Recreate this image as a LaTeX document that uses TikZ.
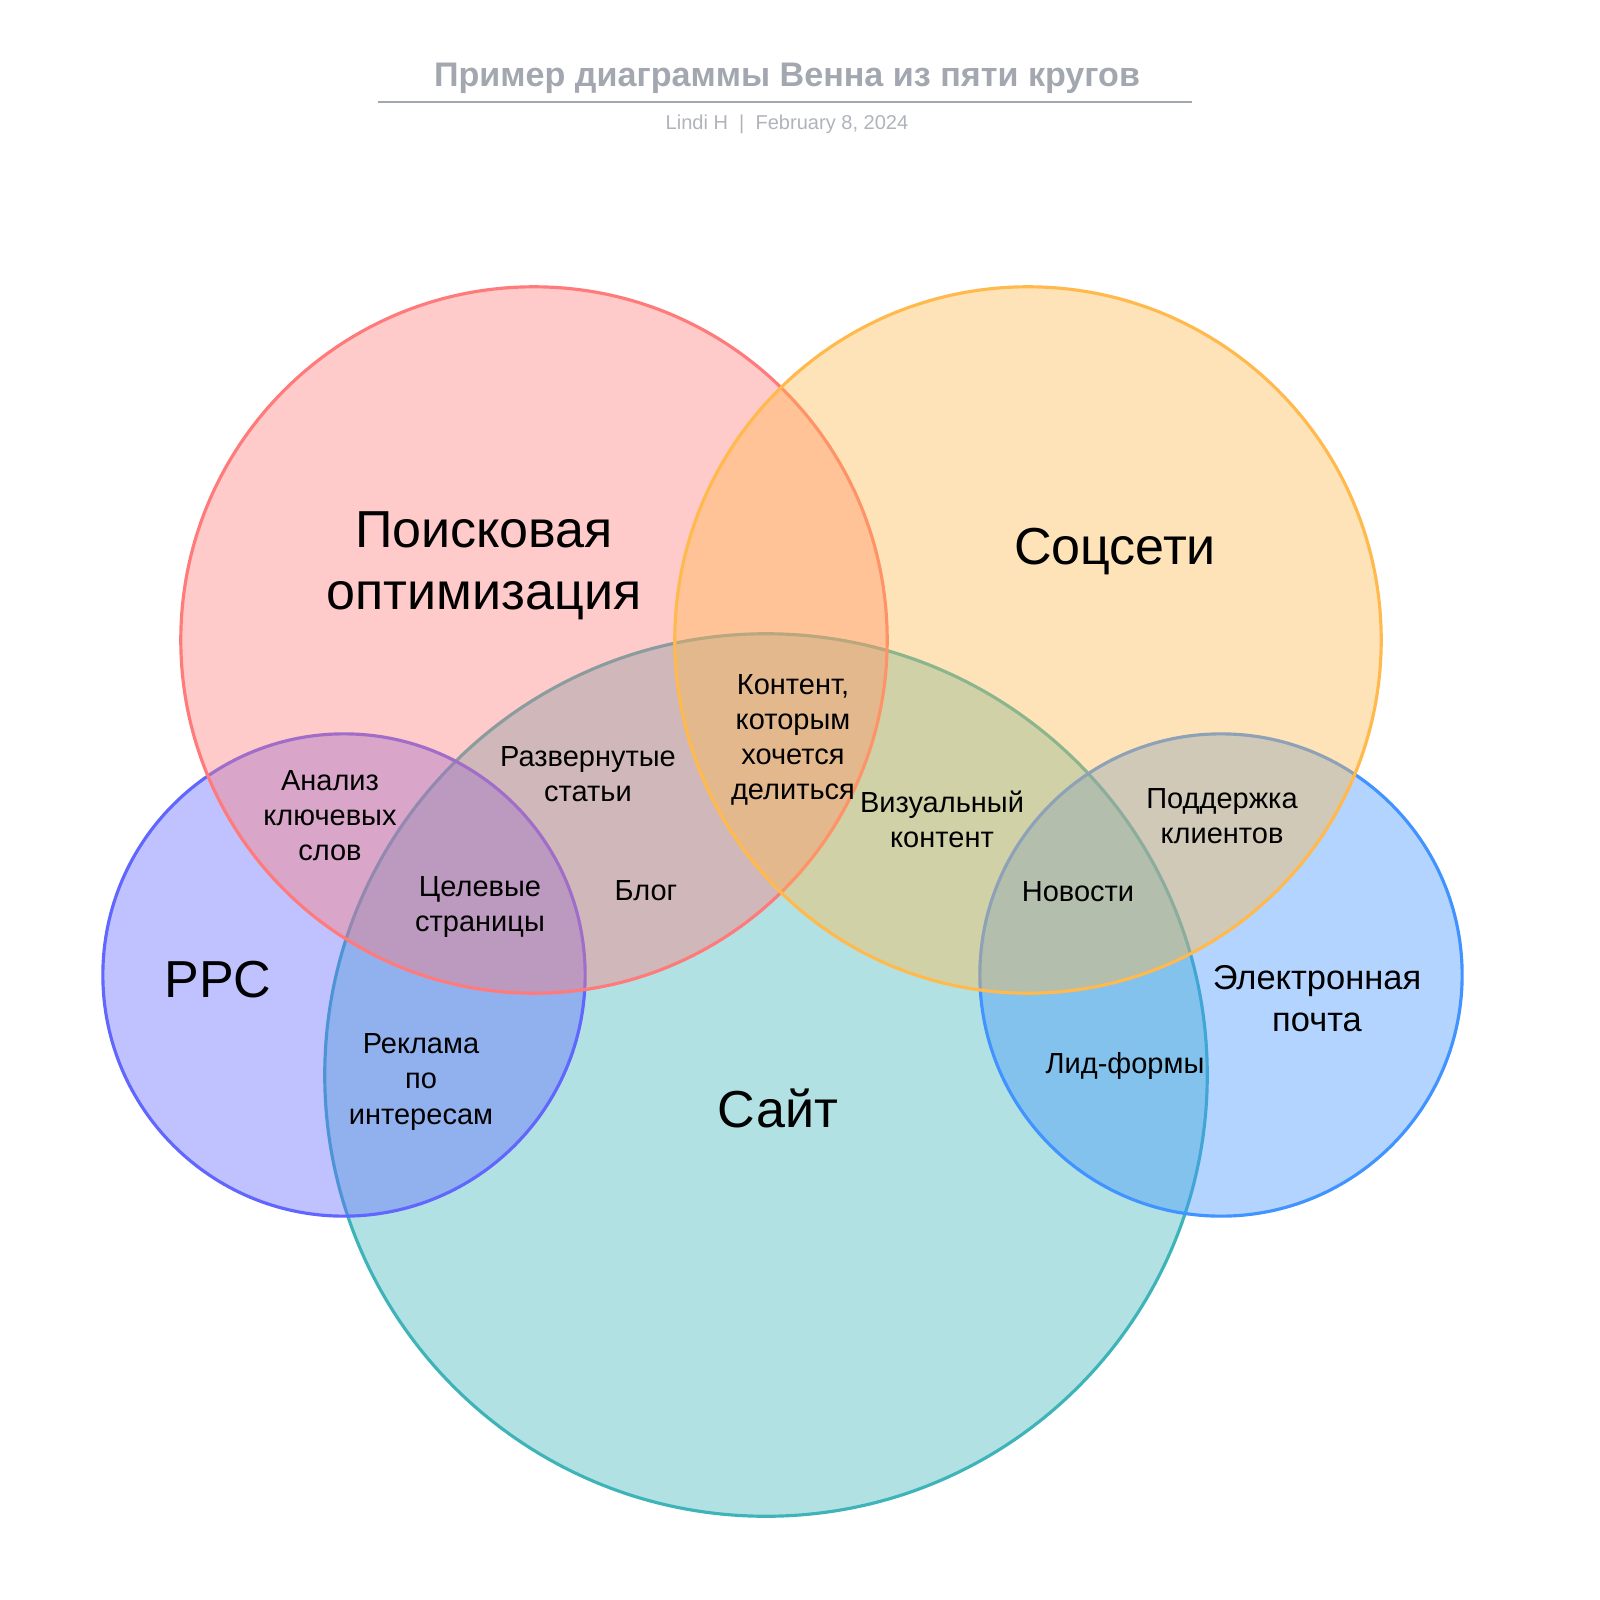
\documentclass[tikz,border=0pt]{standalone}
\usepackage{fontspec}
\setmainfont{Liberation Sans}
\usepackage{tikz}

\definecolor{seoc}{HTML}{FF7A7A}
\definecolor{socc}{HTML}{FFB94D}
\definecolor{sitec}{HTML}{3EB4B9}
\definecolor{ppcc}{HTML}{6166FF}
\definecolor{mailc}{HTML}{4193FF}
\definecolor{titlegray}{HTML}{A3A7B0}
\definecolor{subgray}{HTML}{B0B3BA}

\begin{document}
\begin{tikzpicture}[x=0.01cm,y=-0.01cm,
                    venn/.style={circle,inner sep=0pt,line width=0.9pt,
                                 fill opacity=0.4,draw opacity=1},
                    biglabel/.style={align=center,font=\fontsize{14.8}{17.6}\selectfont},
                    midlabel/.style={align=center,font=\fontsize{9.8}{12}\selectfont},
                    smalllabel/.style={align=center,font=\fontsize{8.25}{9.96}\selectfont}]
      \useasboundingbox (0,0) rectangle (1600,1600);

      % title block
      \node[font=\bfseries\fontsize{9.7}{11}\selectfont,text=titlegray] (title) at (787,78)
            {Пример диаграммы Венна из пяти кругов};
      \coordinate (rulel) at (378,102);
      \coordinate (ruler) at (1192,102);
      \draw[titlegray,line width=0.6pt] (rulel) -- (ruler);
      \node[font=\fontsize{5.7}{7}\selectfont,text=subgray] (sub) at (787,124)
            {Lindi H~~|~~February 8, 2024};

      % circles
      \node[venn,draw=sitec,fill=sitec,minimum size=8.82cm] (site) at (766,1075) {};
      \node[venn,draw=mailc,fill=mailc,minimum size=4.82cm] (mail) at (1221,975) {};
      \node[venn,draw=ppcc,fill=ppcc,minimum size=4.82cm]   (ppc)  at (344,975)  {};
      \node[venn,draw=seoc,fill=seoc,minimum size=7.06cm]   (seo)  at (534,640)  {};
      \node[venn,draw=socc,fill=socc,minimum size=7.06cm]   (soc)  at (1028,640) {};

      % set names
      \node[biglabel] (seoname)  at (484,566)  {Поисковая\\оптимизация};
      \node[biglabel] (socname)  at (1115,552) {Соцсети};
      \node[biglabel] (sitename) at (778,1108) {Сайт};
      \node[biglabel] (ppcname)  at (218,980)  {PPC};
      \node[midlabel] (mailname) at (1317,999) {Электронная\\почта};

      % overlaps
      \node[smalllabel] (keywords) at (330,816)  {Анализ\\ключевых\\слов};
      \node[smalllabel] (articles) at (588,774)  {Развернутые\\статьи};
      \node[smalllabel] (share)    at (793,740)  {Контент,\\которым\\хочется\\делиться};
      \node[smalllabel] (visual)   at (942,819)  {Визуальный\\контент};
      \node[smalllabel] (support)  at (1222,816) {Поддержка\\клиентов};
      \node[smalllabel] (landing)  at (480,907)  {Целевые\\страницы};
      \node[smalllabel] (blog)     at (646,891)  {Блог};
      \node[smalllabel] (news)     at (1078,892) {Новости};
      \node[smalllabel] (interest) at (421,1082) {Реклама\\по\\интересам};
      \node[smalllabel] (leads)    at (1125,1066) {Лид-формы};

    \end{tikzpicture}
\end{document}
